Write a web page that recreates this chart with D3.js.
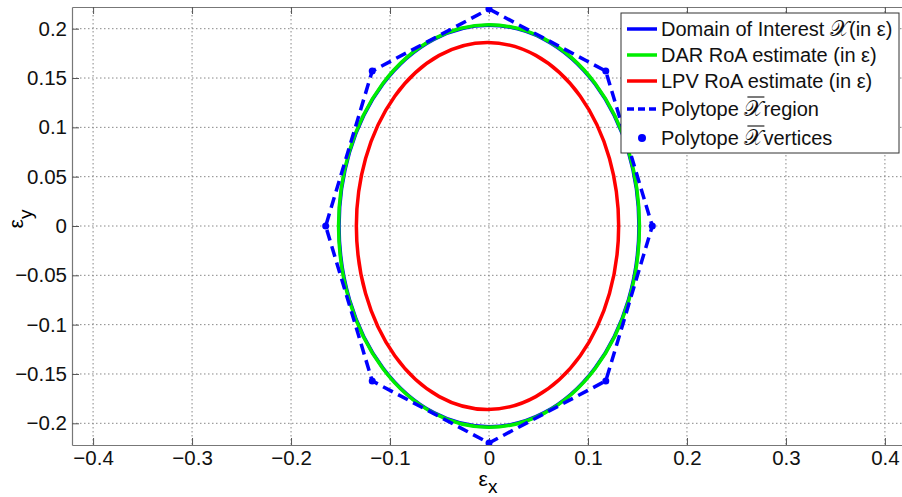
<html>
<head>
<meta charset="utf-8" />
<script src="https://cdn.jsdelivr.net/npm/d3@7"></script>
<style>
body { margin: 0; background: #fff; }
text { font-family: "Liberation Sans", Arial, sans-serif; }
.grid line { stroke: #888; stroke-width: 1; stroke-dasharray: 1.5,2.5; }
</style>
</head>
<body>
<svg id="chart" width="902" height="497"></svg>
<script>

// axis ticks
var xTicks = [-0.4, -0.3, -0.2, -0.1, 0, 0.1, 0.2, 0.3, 0.4];
var yTicks = [-0.2, -0.15, -0.1, -0.05, 0, 0.05, 0.1, 0.15, 0.2];

// ellipses: [cx, cy, rx, ry]
var domainEllipse = [0, 0, 0.1515, 0.2035];
var darEllipse = [0, 0, 0.152, 0.204];
var lpvEllipse = [-0.0015, 0, 0.1325, 0.186];

// polytope vertices
var polyX = [0, 0.118, 0.165, 0.118, 0, -0.118, -0.165, -0.118];
var polyY = [0.22, 0.157, 0, -0.157, -0.22, -0.157, 0, 0.157];

var legendNames = ["Domain of Interest ", "DAR RoA estimate (in ε)", "LPV RoA estimate (in ε)", "Polytope ", "Polytope "];

var svg = d3.select("#chart");
var margin = {left: 72, top: 7, right: -4, bottom: 52};
var width = 902 - margin.left - margin.right;
var height = 497 - margin.top - margin.bottom;

var x = d3.scaleLinear().domain([-0.4213, 0.4213]).range([0, width]);
var y = d3.scaleLinear().domain([-0.222, 0.222]).range([height, 0]);

var g = svg.append("g").attr("transform", "translate(" + margin.left + "," + margin.top + ")");

g.append("defs").append("clipPath").attr("id", "clip")
  .append("rect").attr("width", width).attr("height", height);

// grid
var grid = g.append("g").attr("class", "grid");
grid.selectAll(".gx").data(xTicks).enter().append("line")
  .attr("x1", d => x(d)).attr("x2", d => x(d)).attr("y1", 0).attr("y2", height);
grid.selectAll(".gy").data(yTicks).enter().append("line")
  .attr("y1", d => y(d)).attr("y2", d => y(d)).attr("x1", 0).attr("x2", width);

// axes (ticks inward)
var xAxis = g.append("g").attr("transform", "translate(0," + height + ")")
  .call(d3.axisBottom(x).tickValues(xTicks).tickSizeInner(-7).tickSizeOuter(0).tickPadding(11).tickFormat(d3.format("")));
var xAxisTop = g.append("g")
  .call(d3.axisTop(x).tickValues(xTicks).tickSizeInner(-7).tickSizeOuter(0).tickFormat(""));
var yAxis = g.append("g")
  .call(d3.axisLeft(y).tickValues(yTicks).tickSizeInner(-7).tickSizeOuter(0).tickPadding(5).tickFormat(d3.format("")));
[xAxis, xAxisTop, yAxis].forEach(function(a) {
  a.select(".domain").attr("stroke", "#777").attr("stroke-width", 1.2);
  a.selectAll(".tick line").attr("stroke", "#555");
  a.selectAll("text").attr("font-size", 20.5).attr("fill", "#111")
    .attr("font-family", "Liberation Sans, Arial, sans-serif");
});
xAxis.selectAll("text").attr("dy", "0.45em");

// plot contents
var plot = g.append("g").attr("clip-path", "url(#clip)");

function drawEllipse(e, color) {
  plot.append("ellipse")
    .attr("cx", x(e[0])).attr("cy", y(e[1]))
    .attr("rx", x(e[2]) - x(0)).attr("ry", y(0) - y(e[3]))
    .attr("fill", "none").attr("stroke", color).attr("stroke-width", 3.5);
}
drawEllipse(domainEllipse, "#0000ff");
drawEllipse(darEllipse, "#00ee00");
drawEllipse(lpvEllipse, "#ff0000");

var polyPts = polyX.map((d, i) => [d, polyY[i]]);
var line = d3.line().x(d => x(d[0])).y(d => y(d[1])).curve(d3.curveLinearClosed);
plot.append("path").datum(polyPts)
  .attr("d", line).attr("fill", "none").attr("stroke", "#0000ff")
  .attr("stroke-width", 3.5).attr("stroke-dasharray", "11,6");
plot.selectAll(".vert").data(polyPts).enter().append("circle")
  .attr("cx", d => x(d[0])).attr("cy", d => y(d[1])).attr("r", 3.5).attr("fill", "#0000ff");

// axis labels
var xl = svg.append("text").attr("x", margin.left + x(0) - 1).attr("y", 486)
  .attr("text-anchor", "middle").attr("font-size", 21);
xl.append("tspan").text("ε");
xl.append("tspan").attr("font-size", 19).attr("dy", 7).text("x");

var yl = svg.append("text").attr("transform", "translate(23,219) rotate(-90)")
  .attr("text-anchor", "middle").attr("font-size", 21);
yl.append("tspan").text("ε");
yl.append("tspan").attr("font-size", 19).attr("dy", 9).text("y");

// legend
var lg = svg.append("g").attr("transform", "translate(621,13)");
lg.append("rect").attr("width", 278).attr("height", 140)
  .attr("fill", "#fff").attr("stroke", "#333").attr("stroke-width", 1);
var colors = ["#0000ff", "#00ee00", "#ff0000", "#0000ff", "#0000ff"];
var rowY = [16, 42, 68, 96, 125];
legendNames.forEach(function(name, i) {
  var ry = rowY[i];
  if (i < 4) {
    lg.append("line").attr("x1", 6).attr("x2", 36).attr("y1", ry).attr("y2", ry)
      .attr("stroke", colors[i]).attr("stroke-width", 3.5)
      .attr("stroke-dasharray", i === 3 ? "7,4" : null);
  } else {
    lg.append("circle").attr("cx", 21).attr("cy", ry).attr("r", 4).attr("fill", colors[i]);
  }
  var t = lg.append("text").attr("x", 40).attr("y", ry + 7).attr("font-size", 20).attr("fill", "#111");
  t.append("tspan").text(name);
  if (i === 0 || i >= 3) {
    t.append("tspan").attr("font-family", "DejaVu Serif, serif").attr("font-size", 22).text("𝒳");
    if (i >= 3) {
      // bar over the X
      var n = name.length;
      var p0 = t.node().getStartPositionOfChar(n);
      var p1 = t.node().getEndPositionOfChar(n);
      lg.append("line").attr("x1", p0.x + 3).attr("x2", p1.x + 1)
        .attr("y1", ry - 12).attr("y2", ry - 12).attr("stroke", "#222").attr("stroke-width", 1.2);
    }
    t.append("tspan").text(i === 0 ? "(in ε)" : (i === 3 ? "region" : "vertices"));
  }
});

</script>
</body>
</html>
